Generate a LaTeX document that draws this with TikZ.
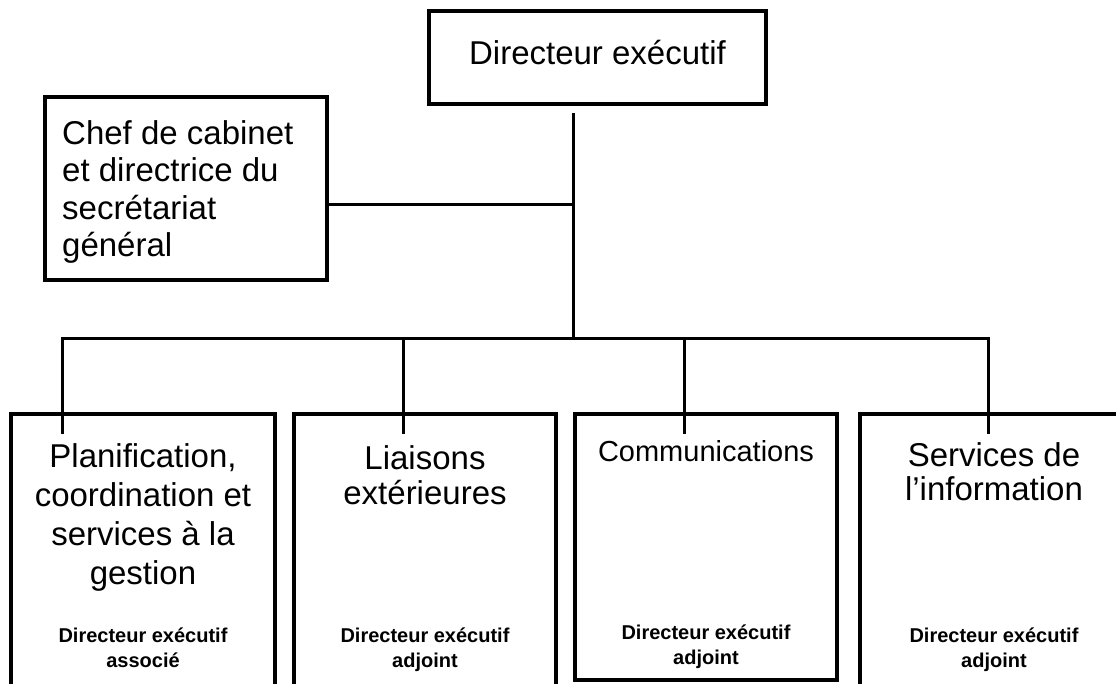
\documentclass[tikz,border=0pt]{standalone}
\usepackage{fontspec}
\setmainfont{Liberation Sans}
\begin{document}
\begin{tikzpicture}[x=1pt,y=-1pt,
  box/.style={draw, line width=4pt, inner sep=0pt},
  conn/.style={line width=3pt},
  big/.style={font=\fontsize{33}{37.5}\selectfont, inner sep=0pt},
  title/.style={big, align=center, anchor=north},
  role/.style={font=\fontsize{20}{25}\selectfont\bfseries, align=center, inner sep=0pt, anchor=north}]
\useasboundingbox (0,0) rectangle (1116,683);
\fill[white] (0,0) rectangle (1116,683);
\clip (0,0) rectangle (1116,683);

% boxes
\node[box, minimum width=337pt, minimum height=93pt] (top) at (597.5,57.5) {};
\node[box, minimum width=282pt, minimum height=183pt] (chef) at (186,188.5) {};
\node[box, minimum width=264pt, minimum height=346pt] (b1) at (143,587) {};
\node[box, minimum width=262pt, minimum height=346pt] (b2) at (425,587) {};
\node[box, minimum width=262pt, minimum height=266pt] (b3) at (706,547) {};
\node[box, minimum width=268pt, minimum height=346pt] (b4) at (994,587) {};

% texts
\node[big, anchor=base] (toptext) at (597.5,64) {Directeur exécutif};
\node[big, align=left, anchor=north west] (cheftext) at (62,120)
  {Chef de cabinet\\et directrice du\\secrétariat\\général};
\node[title, font=\fontsize{33}{39}\selectfont] (t1) at (143,443) {Planification,\\coordination et\\services à la\\gestion};
\node[title, font=\fontsize{33}{35}\selectfont] (t2) at (425,445) {Liaisons\\extérieures};
\node[title, font=\fontsize{29}{34}\selectfont] (t3) at (706,440) {Communications};
\node[title, font=\fontsize{33}{34}\selectfont] (t4) at (994,442) {Services de\\l’information};
\node[role] (r1) at (143,628) {Directeur exécutif\\associé};
\node[role] (r2) at (425,628) {Directeur exécutif\\adjoint};
\node[role] (r3) at (706,625) {Directeur exécutif\\adjoint};
\node[role] (r4) at (994,628) {Directeur exécutif\\adjoint};

% connectors
\coordinate (ttop) at (573,113);
\coordinate (j1) at (573,204);
\coordinate (j2) at (573,338);
\coordinate (d1) at (62,434);
\coordinate (d2) at (403,434);
\coordinate (d3) at (684,434);
\coordinate (d4) at (988,434);
\draw[conn] (ttop) -- (j2);
\draw[conn] (chef.east |- j1) -- (j1);
\draw[conn] (d1) -- (d1 |- j2) -- (d4 |- j2) -- (d4);
\draw[conn] (d2 |- j2) -- (d2);
\draw[conn] (d3 |- j2) -- (d3);
\end{tikzpicture}
\end{document}
